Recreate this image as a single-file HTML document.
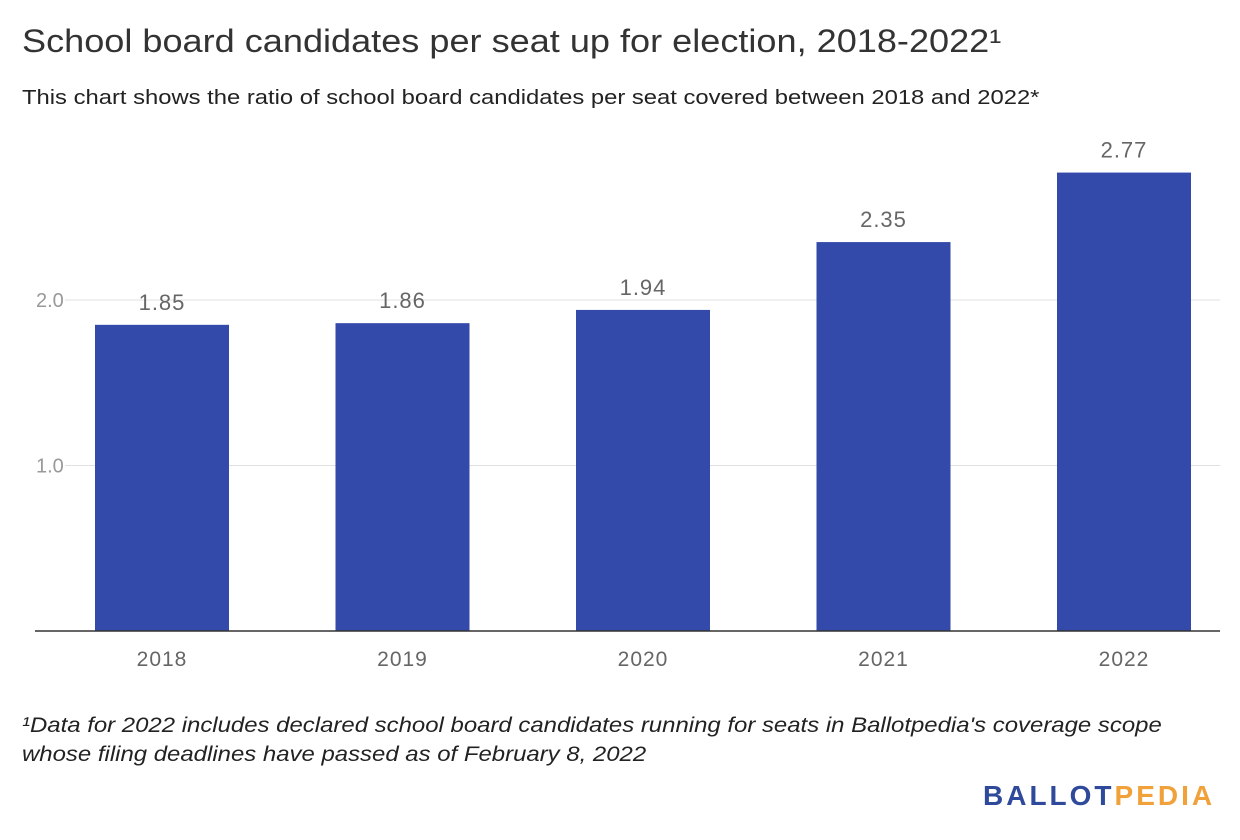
<!DOCTYPE html>
<html><head><meta charset="utf-8"><style>
body{margin:0;width:1240px;height:840px;background:#fff;font-family:"Liberation Sans",sans-serif;position:relative;overflow:hidden}
.t{position:absolute;white-space:nowrap;transform-origin:0 0}
</style></head><body>
<div class="t" style="left:22px;top:23px;font-size:32px;color:#333;transform:scaleX(1.128)">School board candidates per seat up for election, 2018-2022¹</div>
<div class="t" style="left:22px;top:87px;font-size:20px;color:#222;transform:scaleX(1.19)">This chart shows the ratio of school board candidates per seat covered between 2018 and 2022*</div>
<svg id="chart" width="1240" height="700" style="position:absolute;left:0;top:0"></svg>
<div class="t" style="left:22px;top:711px;font-size:21px;font-style:italic;color:#222;line-height:29px;transform:scaleX(1.14)">¹Data for 2022 includes declared school board candidates running for seats in Ballotpedia's coverage scope<br>whose filing deadlines have passed as of February 8, 2022</div>
<div class="t" style="left:983px;top:780px;font-size:28px;font-weight:bold;letter-spacing:3px"><span style="color:#2f4a9a">BALLOT</span><span style="color:#f0a13a">PEDIA</span></div>
<script>
const categories=["2018","2019","2020","2021","2022"];
const values=[1.85,1.86,1.94,2.35,2.77];
const yTicks=[1.0,2.0];
const yTickLabels=["1.0","2.0"];
const svg=document.getElementById('chart');
const NS="http://www.w3.org/2000/svg";
const y0=631,pxPer=165.5;
const y=v=>y0-v*pxPer;
const x=i=>162+i*240.5;
const bw=134;
function mk(tag,attrs,txt){const e=document.createElementNS(NS,tag);for(const k in attrs)e.setAttribute(k,attrs[k]);if(txt!==undefined)e.textContent=txt;svg.appendChild(e);return e;}
yTicks.forEach((v,i)=>{
 const g=mk('line',{x1:65,x2:1220,y1:y(v),y2:y(v),stroke:'#e0e0e0','stroke-width':1});
 
 
 const t=mk('text',{x:36,y:y(v)+7,'font-size':20,fill:'#999','font-family':'Liberation Sans'},yTickLabels[i]);
 
 
});
categories.forEach((c,i)=>{
 const r=mk('rect',{x:x(i)-bw/2,y:y(values[i]),width:bw,height:y0-y(values[i]),fill:'#334aaa'});
 
 
 const l=mk('text',{x:x(i),y:y(values[i])-15,'font-size':22,'letter-spacing':1,fill:'#666','text-anchor':'middle','font-family':'Liberation Sans'},values[i].toFixed(2));
 
 
 const xl=mk('text',{x:x(i),y:666,'font-size':21,'letter-spacing':1,fill:'#666','text-anchor':'middle','font-family':'Liberation Sans'},c);
 
 
});
const ax=mk('line',{x1:35,x2:1220,y1:y0,y2:y0,stroke:'#333','stroke-width':1.5});


</script>
</body></html>
